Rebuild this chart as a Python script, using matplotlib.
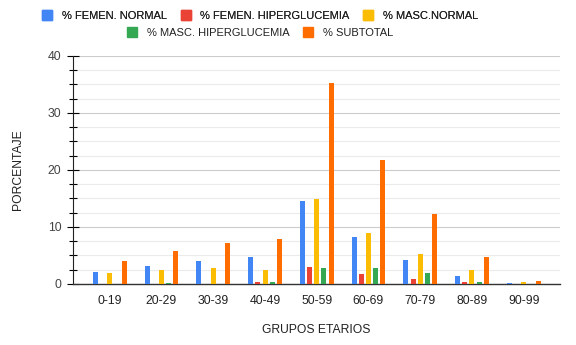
import numpy as np
import matplotlib.pyplot as plt
from matplotlib.ticker import MultipleLocator
from matplotlib.lines import Line2D

plt.rcParams['font.family'] = ['Liberation Sans', 'DejaVu Sans']

grupos = ['0-19', '20-29', '30-39', '40-49', '50-59', '60-69', '70-79', '80-89', '90-99']
fem_normal = [2.1, 3.1, 4.0, 4.7, 14.5, 8.2, 4.2, 1.4, 0.2]
fem_hiper = [0.0, 0.0, 0.0, 0.35, 2.9, 1.75, 0.9, 0.35, 0.0]
masc_normal = [2.0, 2.45, 2.8, 2.45, 14.9, 8.9, 5.25, 2.45, 0.35]
masc_hiper = [0.0, 0.2, 0.0, 0.35, 2.75, 2.75, 1.9, 0.35, 0.0]
subtotal = [4.0, 5.8, 7.2, 7.9, 35.2, 21.75, 12.3, 4.75, 0.6]

series = [fem_normal, fem_hiper, masc_normal, masc_hiper, subtotal]
nombres = ['% FEMEN. NORMAL', '% FEMEN. HIPERGLUCEMIA', '% MASC.NORMAL',
           '% MASC. HIPERGLUCEMIA', '% SUBTOTAL']
colores = ['#4285F4', '#EA4335', '#FBBC04', '#34A853', '#FF6D01']

fig = plt.figure(figsize=(5.76, 3.45), dpi=100)
ax = fig.add_axes([0.126, 0.177, 0.846, 0.661])

x = np.arange(len(grupos))
paso = 0.139
ancho = 0.097
for i, (vals, col) in enumerate(zip(series, colores)):
    ax.bar(x + (i - 2) * paso, vals, width=ancho, color=col, zorder=3)

ax.set_xlim(-0.72, 8.70)
ax.set_ylim(0, 40)
ax.yaxis.set_major_locator(MultipleLocator(10))
ax.yaxis.set_minor_locator(MultipleLocator(2.5))
ax.grid(axis='y', which='major', color='#cccccc', linewidth=0.8, zorder=0)
ax.grid(axis='y', which='minor', color='#ebebeb', linewidth=0.8, zorder=0)

ax.set_xticks(x)
ax.set_xticklabels(grupos)
ax.tick_params(axis='x', length=0, pad=8, labelsize=8.8, labelcolor='#222222')
ax.tick_params(axis='y', which='major', direction='inout', length=8, width=0.8,
               labelsize=8.8, labelcolor='#444444', pad=4)
ax.tick_params(axis='y', which='minor', direction='inout', length=6, width=0.8)

for s in ['top', 'right']:
    ax.spines[s].set_visible(False)
ax.spines['left'].set_color('#222222')
ax.spines['bottom'].set_color('#333333')
ax.spines['left'].set_linewidth(0.8)
ax.spines['bottom'].set_linewidth(1.0)

ax.set_ylabel('PORCENTAJE', fontsize=8.7, color='#222222', labelpad=17)
ax.set_xlabel('GRUPOS ETARIOS', fontsize=8.7, color='#222222', labelpad=12)

def handles(idx):
    return [Line2D([], [], marker='s', linestyle='', markersize=7,
                   color=colores[k]) for k in idx]

opts = dict(loc='center', frameon=False, fontsize=8, handlelength=0.8,
            handletextpad=0.9, columnspacing=1.3, labelcolor='#222222')
leg1 = fig.legend(handles([0, 1, 2]), nombres[:3], ncol=3,
                  bbox_to_anchor=(0.452, 0.955), **opts)
fig.legend(handles([3, 4]), nombres[3:], ncol=2,
           bbox_to_anchor=(0.452, 0.905), **opts)
fig.add_artist(leg1)

fig.savefig('out.png', dpi=100)
